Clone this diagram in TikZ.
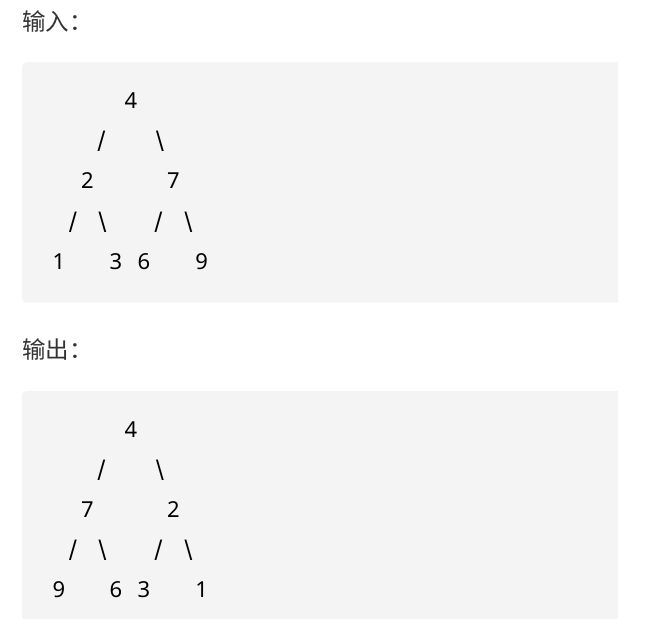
\documentclass[tikz,border=0pt]{standalone}
\usepackage{fontspec}
\setmainfont{Noto Sans}
\newfontfamily\cjkfont{Noto Sans CJK SC}
\usepackage{graphicx}
\usetikzlibrary{positioning}
\definecolor{codebg}{HTML}{F4F4F4}
\definecolor{headtext}{HTML}{333333}
\newcommand{\tallslash}{\scalebox{1}[1.3]{/}}
\newcommand{\tallback}{\scalebox{1}[1.3]{\textbackslash}}

\begin{document}
\begin{tikzpicture}[
    x=1pt, y=-1pt,
    codebox/.style={rectangle, fill=codebg, rounded corners=4pt, inner sep=0pt, anchor=north west},
    heading/.style={font=\cjkfont\fontsize{23.5}{23.5}\selectfont, text=headtext, inner sep=0pt, anchor=base west},
    digit/.style={font=\fontsize{22}{22}\selectfont, text=black, inner sep=0pt, anchor=base}
]
    \useasboundingbox (0,0) rectangle (647,631);
    \begin{scope}
        \clip (0,0) rectangle (618,618.7);
        \node[codebox, minimum width=604pt, minimum height=240.5pt] (inbox) at (22,62) {};
        \node[codebox, minimum width=604pt, minimum height=236pt] (outbox) at (22,391) {};
    \end{scope}

    \node[heading] (inhead) at (22,30.5) {输入：};
    \node[heading] (outhead) at (22,358) {输出：};

    % input tree
    \node[digit] (i4) at (131,109) {4};
    \node[digit] (is1) at (101.5,152) {\tallslash};
    \node[digit] (is2) at (160,152) {\tallback};
    \node[digit] (i2) at (87.5,189) {2};
    \node[digit] (i7) at (173.5,189) {7};
    \node[digit] (is3) at (73,232) {\tallslash};
    \node[digit] (is4) at (102.5,232) {\tallback};
    \node[digit] (is5) at (158.5,232) {\tallslash};
    \node[digit] (is6) at (188.5,232) {\tallback};
    \node[digit] (i1) at (59,269) {1};
    \node[digit] (i3) at (116,269) {3};
    \node[digit] (i6) at (144,269) {6};
    \node[digit] (i9) at (201.7,269) {9};

    % output tree
    \node[digit] (o4) at (131,437) {4};
    \node[digit] (os1) at (101.5,480) {\tallslash};
    \node[digit] (os2) at (160,480) {\tallback};
    \node[digit] (o7) at (87.5,517) {7};
    \node[digit] (o2) at (173.5,517) {2};
    \node[digit] (os3) at (73,560) {\tallslash};
    \node[digit] (os4) at (102.5,560) {\tallback};
    \node[digit] (os5) at (158.5,560) {\tallslash};
    \node[digit] (os6) at (188.5,560) {\tallback};
    \node[digit] (o9) at (59,597) {9};
    \node[digit] (o6) at (116,597) {6};
    \node[digit] (o3) at (144,597) {3};
    \node[digit] (o1) at (201.7,597) {1};
\end{tikzpicture}
\end{document}
